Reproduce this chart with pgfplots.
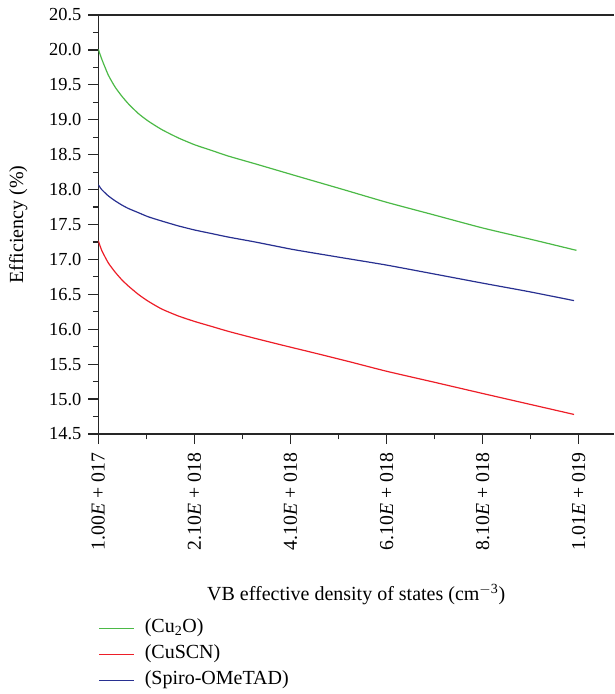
\documentclass[border=0pt]{standalone}
\usepackage{fontspec}
\setmainfont{Liberation Serif}
\usepackage{pgfplots}
\pgfplotsset{compat=1.18}
\definecolor{cgreen}{RGB}{75,185,70}
\definecolor{cred}{RGB}{237,30,40}
\definecolor{cblue}{RGB}{40,48,145}
\begin{document}
\fontsize{15}{18}\selectfont
\begin{tikzpicture}
\begin{axis}[name=ax, scale only axis, width=386.8pt, height=314.25pt,
  xmin=0.1, xmax=10.833, ymin=14.5, ymax=20.5,
  axis x line=box, axis y line=left,
  axis line style={-, line width=0.9pt, black!85},
  every tick/.style={line width=0.9pt, black!85},
  xtick={0.1,2.1,4.1,6.1,8.1,10.1},
  minor xtick={1.1,3.1,5.1,7.1,9.1},
  xticklabels={1.00\textit{E} + 017, 2.10\textit{E} + 018, 4.10\textit{E} + 018, 6.10\textit{E} + 018, 8.10\textit{E} + 018, 1.01\textit{E} + 019},
  xtick pos=bottom, ytick pos=left, tick align=outside,
  major tick length=7.5pt, minor tick length=4pt,
  ytick={14.5,15.0,15.5,16.0,16.5,17.0,17.5,18.0,18.5,19.0,19.5,20.0,20.5},
  minor ytick={14.75,15.25,15.75,16.25,16.75,17.25,17.75,18.25,18.75,19.25,19.75,20.25},
  yticklabel style={font=\fontsize{13.8}{16}\selectfont, /pgf/number format/.cd, fixed, fixed zerofill, precision=1, assume math mode=true},
  xticklabel style={rotate=90, anchor=east, font=\fontsize{14.8}{16}\selectfont, inner sep=6.5pt},
  xlabel={VB effective density of states (cm\textsuperscript{$-$3})},
  ylabel={Efficiency (\%)},
  label style={font=\fontsize{15}{18}\selectfont},
  xlabel style={at={(axis description cs:0.5,-0.384)}, anchor=center},
  ylabel style={at={(axis description cs:-0.155,0.5)}, anchor=center},
  legend style={at={(axis description cs:0,-0.432)}, anchor=north west, draw=none, fill=none,
    inner sep=0pt, font=\fontsize{15}{18}\selectfont,
    nodes={inner sep=0pt, text height=13pt, text depth=6.5pt}, column sep=7.5pt},
  legend cell align=left,
  legend image code/.code={\draw[#1] (0pt,0pt) -- (26.25pt,0pt);},
  every axis plot/.append style={line width=0.9pt, smooth, tension=0.35},
]
\addplot[cgreen] coordinates {
(0.1,20.01) (0.171,19.87) (0.308,19.64) (0.448,19.47) (0.587,19.34) (0.724,19.23) (0.932,19.09) (1.141,18.98) (1.419,18.86) (1.765,18.74) (2.112,18.64) (2.46,18.56) (2.805,18.48) (3.36,18.37) (4.30,18.18) (5.2,18.00) (6.09,17.82) (7.07,17.64) (8.1,17.45) (9.15,17.28) (10.05,17.13)};
\addlegendentry{(Cu\textsubscript{2}O)}
\addplot[cred] coordinates {
(0.1,17.27) (0.171,17.13) (0.308,16.95) (0.448,16.82) (0.587,16.71) (0.724,16.62) (0.932,16.50) (1.141,16.40) (1.419,16.29) (1.765,16.19) (2.112,16.11) (2.46,16.04) (2.805,15.97) (3.36,15.87) (4.09,15.745) (4.51,15.675) (5.3,15.54) (6.09,15.40) (7.1,15.24) (8.1,15.08) (9.05,14.93) (10.0,14.78)};
\addlegendentry{(CuSCN)}
\addplot[cblue] coordinates {
(0.1,18.07) (0.171,18.00) (0.308,17.91) (0.448,17.84) (0.587,17.78) (0.724,17.73) (0.932,17.67) (1.141,17.61) (1.419,17.55) (1.765,17.48) (2.112,17.42) (2.46,17.37) (2.805,17.32) (3.36,17.25) (4.09,17.15) (4.51,17.10) (5.3,17.01) (6.09,16.92) (7.1,16.79) (8.1,16.66) (9.05,16.54) (10.0,16.41)};
\addlegendentry{(Spiro-OMeTAD)}
\end{axis}
\pgfresetboundingbox
\path[use as bounding box] ([xshift=-73.725pt,yshift=-195pt]ax.south west) rectangle ([yshift=11.25pt]ax.north east);
\end{tikzpicture}
\end{document}
